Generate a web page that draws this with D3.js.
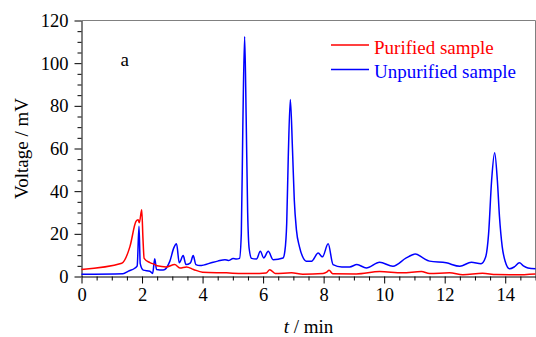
<!DOCTYPE html>
<html>
<head>
<meta charset="utf-8">
<script src="https://cdn.jsdelivr.net/npm/d3@7"></script>
<style>
  html, body { margin: 0; padding: 0; background: #fff; }
  svg { display: block; }
  svg text { font-family: "Liberation Serif", "Times New Roman", serif !important; }
</style>
</head>
<body>
<svg id="chart" width="536" height="337"></svg>
<script>
// ---- data ----
const seriesNames = ["Purified sample", "Unpurified sample"];
const purifiedT = [0, 1.33, 1.6, 1.8, 1.87, 1.91, 1.99, 2.03, 2.07, 2.26, 2.43, 2.5, 2.8, 3.08, 3.25, 3.47, 3.7, 4.0, 4.79, 5.33, 5.88, 6.1, 6.22, 6.4, 6.94, 7.31, 7.98, 8.1, 8.18, 8.3, 9.08, 9.85, 10.6, 11.23, 11.5, 12.16, 12.6, 13.25, 13.7, 14.36, 15];
const purifiedV = [3.3, 6.2, 14, 25.8, 26.6, 25.2, 31.3, 18, 8.5, 6.5, 5.6, 5.0, 4.5, 5.6, 4.0, 4.5, 3.3, 2.0, 1.7, 1.4, 1.4, 1.6, 3.2, 1.4, 1.7, 1.1, 1.4, 2.0, 2.9, 1.3, 1.2, 2.3, 1.7, 2.3, 1.4, 1.7, 0.8, 1.5, 0.9, 0.8, 1.2];
const unpurifiedT = [0, 1.37, 1.55, 1.77, 1.84, 1.9, 1.94, 2.04, 2.26, 2.35, 2.42, 2.48, 2.7, 2.92, 3.05, 3.14, 3.23, 3.36, 3.45, 3.6, 3.69, 3.78, 3.91, 4.35, 4.5, 4.74, 4.85, 5.01, 5.12, 5.22, 5.28, 5.33, 5.39, 5.44, 5.49, 5.54, 5.62, 5.78, 5.91, 6.02, 6.17, 6.33, 6.66, 6.72, 6.78, 6.83, 6.9, 6.97, 7.03, 7.1, 7.2, 7.3, 7.43, 7.6, 7.82, 7.96, 8.15, 8.31, 8.6, 8.86, 9.1, 9.41, 9.85, 10.29, 10.73, 11.03, 11.28, 11.5, 12.05, 12.5, 12.88, 13.2, 13.35, 13.45, 13.55, 13.65, 13.74, 13.81, 13.9, 14.0, 14.14, 14.3, 14.47, 14.6, 14.75, 15];
const unpurifiedV = [1.0, 1.3, 2.5, 4, 5, 23.5, 6, 3.0, 2.5, 1.4, 8.3, 3.3, 3.0, 7.2, 13.4, 15.3, 6.4, 9.8, 5.6, 6.4, 9.8, 5.6, 5.1, 6.7, 7.2, 7.9, 7.5, 8.4, 8.2, 8.5, 20, 70, 112.5, 75, 30, 13, 8.5, 8.2, 11.8, 8.7, 11.8, 7.9, 8.7, 12, 25, 55, 83, 60, 36, 22, 14, 9.5, 7.2, 7.2, 11, 9.2, 15.3, 5.6, 4.5, 4.5, 5.6, 4.0, 6.7, 4.8, 8.7, 10.6, 8.7, 7.2, 6.4, 4.8, 6.7, 6.0, 9, 20, 45, 58, 45, 28, 14, 7, 3.6, 4.5, 6.4, 5, 4, 3.6];
const xTicks = [0, 2, 4, 6, 8, 10, 12, 14];
const yTicks = [0, 20, 40, 60, 80, 100, 120];

// ---- layout ----
const FONT = '"Liberation Serif", "Times New Roman", serif';
const svg = d3.select("#chart");
const L = 81.5, R = 535.5, T = 20.5, B = 276.5;
const x = d3.scaleLinear().domain([0, 15]).range([L, R]);
const y = d3.scaleLinear().domain([0, 120]).range([B, T]);

// frame (top/right gray)
svg.append("line").attr("x1", L).attr("x2", R).attr("y1", T).attr("y2", T).attr("stroke", "#808080").attr("stroke-width", 1);
svg.append("line").attr("x1", R).attr("x2", R).attr("y1", T).attr("y2", B).attr("stroke", "#808080").attr("stroke-width", 1);

// minor ticks
const xMinor = d3.range(0, 15.01, 0.5).filter(v => !xTicks.includes(v));
const yMinor = d3.range(0, 120.01, 5).filter(v => !yTicks.includes(v));

const gx = svg.append("g").attr("transform", `translate(0,${B})`);
gx.call(d3.axisBottom(x).tickValues(xMinor).tickSize(4).tickFormat(""));
gx.call(g => g.select(".domain").remove());
const gx2 = svg.append("g").attr("transform", `translate(0,${B})`)
  .call(d3.axisBottom(x).tickValues(xTicks).tickSize(7).tickSizeOuter(0).tickPadding(4).tickFormat(d3.format("d")));
gx2.attr("font-family", FONT).attr("font-size", 18.5);
gx2.selectAll("text").attr("fill", "#000");

const gy = svg.append("g").attr("transform", `translate(${L},0)`);
gy.call(d3.axisLeft(y).tickValues(yMinor).tickSize(4).tickFormat(""));
gy.call(g => g.select(".domain").remove());
const gy2 = svg.append("g").attr("transform", `translate(${L},0)`)
  .call(d3.axisLeft(y).tickValues(yTicks).tickSize(7).tickSizeOuter(0).tickPadding(6).tickFormat(d3.format("d")));
gy2.attr("font-family", FONT).attr("font-size", 18.5);
gy2.selectAll("text").attr("fill", "#000");

svg.selectAll(".tick line").attr("stroke", "#000");
svg.selectAll(".domain").attr("stroke", "#000");

// lines
const line = d3.line().x(d => x(d[0])).y(d => y(d[1])).curve(d3.curveMonotoneX);
const purified = purifiedT.map((t, i) => [t, purifiedV[i]]);
const unpurified = unpurifiedT.map((t, i) => [t, unpurifiedV[i]]);

svg.append("path").datum(unpurified).attr("d", line)
  .attr("fill", "none").attr("stroke", "#0000ff").attr("stroke-width", 1.5);
svg.append("path").datum(purified).attr("d", line)
  .attr("fill", "none").attr("stroke", "#ff0000").attr("stroke-width", 1.5);

// axis labels
svg.append("text").attr("x", (L + R) / 2).attr("y", 333).attr("text-anchor", "middle")
  .attr("font-size", "19px").attr("fill", "#000")
  .html('<tspan font-style="italic">t</tspan> / min');
svg.append("text").attr("transform", `translate(28,${(T + B) / 2}) rotate(-90)`)
  .attr("text-anchor", "middle").attr("font-size", "19px").attr("fill", "#000")
  .text("Voltage / mV");

// panel label
svg.append("text").attr("x", 120.5).attr("y", 66).attr("font-size", "19px").attr("fill", "#000").text("a");

// legend
const legend = [[seriesNames[0], "#ff0000", 45], [seriesNames[1], "#0000ff", 69.5]];
legend.forEach(([name, col, ly]) => {
  svg.append("line").attr("x1", 331).attr("x2", 369).attr("y1", ly).attr("y2", ly)
    .attr("stroke", col).attr("stroke-width", 1.5);
  svg.append("text").attr("x", 374).attr("y", ly + 8.5).attr("font-size", "19px")
    .attr("fill", col).text(name);
});
</script>
</body>
</html>
